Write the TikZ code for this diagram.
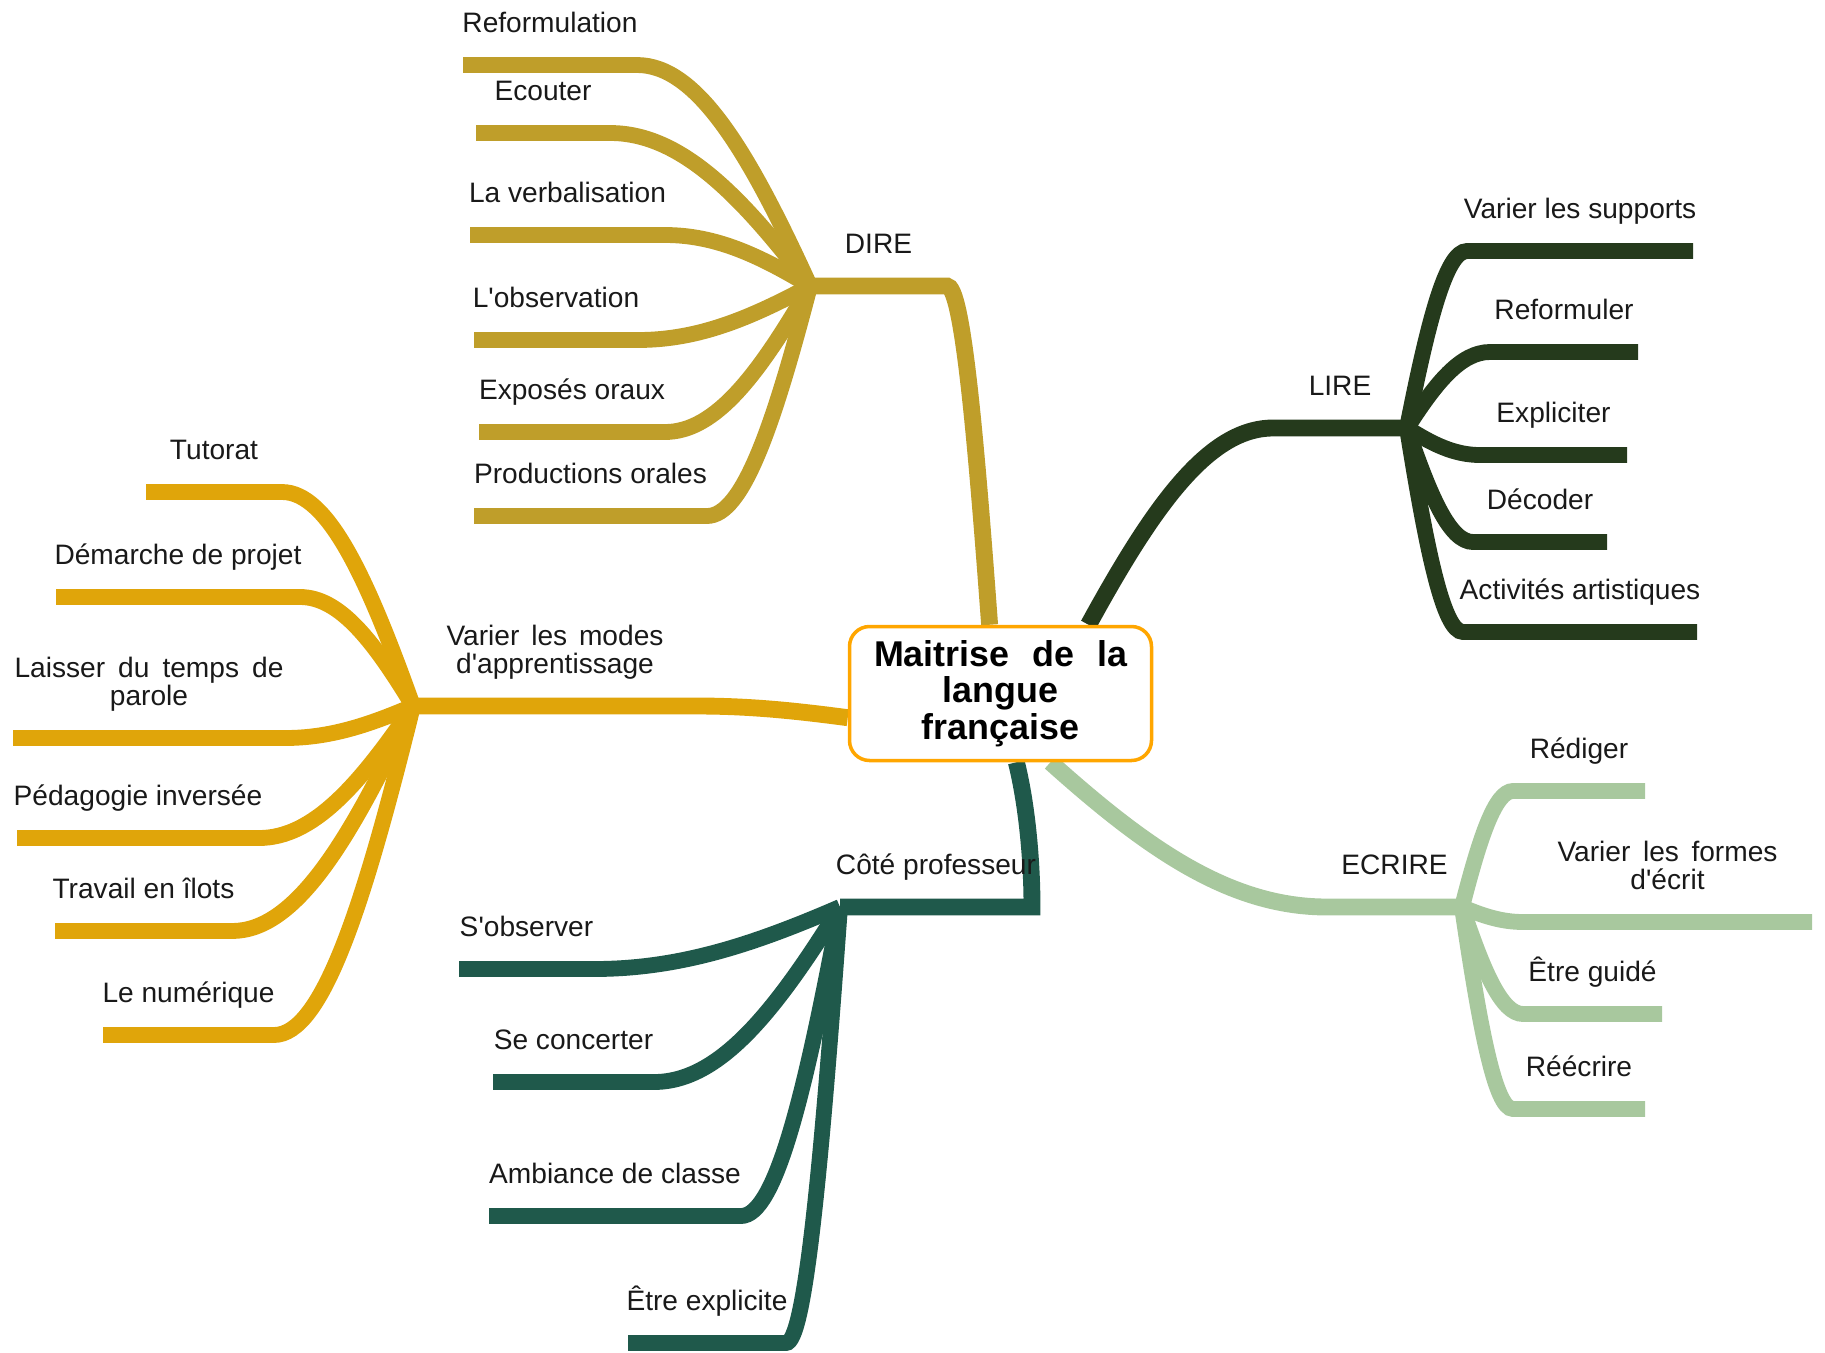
\documentclass[tikz,border=0pt]{standalone}
\usepackage{fontspec}
\setmainfont{Liberation Sans}
\usetikzlibrary{calc,backgrounds}
\definecolor{diregold}{RGB}{191,158,42}
\definecolor{modesgold}{RGB}{224,165,10}
\definecolor{liregreen}{RGB}{37,58,28}
\definecolor{ecrirgreen}{RGB}{168,200,158}
\definecolor{profteal}{RGB}{31,89,75}
\definecolor{boxorange}{RGB}{255,166,0}
\newcommand{\twolines}[3]{\parbox[b]{#1}{\centering\makebox[#1][s]{#2}\\#3}}
\newcommand{\ap}{\textquotesingle}

\begin{document}
\begin{tikzpicture}[x=0.1mm, y=-0.1mm,
  lbl/.style={anchor=base, yshift=3.3mm, inner sep=0pt, text=black!90,
    font=\fontsize{8}{7.8}\selectfont},
  twig/.style={to path={let \p1=(\tikztostart), \p2=(\tikztotarget) in
    .. controls ({\x1+0.35*(\x2-\x1)},{\y1+0.6*(\y2-\y1)})
    and ({\x2-0.35*(\x2-\x1)},\y2) .. (\tikztotarget)}},
  trunk/.style={line width=4.8pt},
  limb/.style={line width=4.5pt}]
  \useasboundingbox (0,0) rectangle (1825,1352);

  \node[draw=boxorange, line width=1pt, fill=white, rounded corners=2mm,
    minimum width=30.2mm, minimum height=13.4mm, inner sep=0pt, align=center,
    font=\fontsize{10.2}{10.4}\selectfont\bfseries] (maitrise) at (1000.5,693.5)
    {\makebox[25.3mm][s]{Maitrise de la}\\langue\\française};

  \begin{scope}[on background layer]
  % DIRE
  \coordinate (hub-dire) at (810,286);
  \coordinate (dire-in) at (947,286);
  \draw[diregold, trunk] (maitrise.99) to[twig] (dire-in)
    -- node[lbl] (dire) {DIRE} (hub-dire);
  \foreach \nm/\txt/\xa/\xb/\yy in {reform/Reformulation/463/637/65,
      ecouter/Ecouter/476/610/133, verbal/La verbalisation/470/665/235,
      observ/L\ap observation/474/638/340, exposes/Exposés oraux/479/665/432,
      product/Productions orales/474/707/516} {
    \coordinate (\nm-o) at (\xa,\yy);
    \coordinate (\nm-i) at (\xb,\yy);
    \draw[diregold, limb] (hub-dire) to[twig] (\nm-i) -- node[lbl] (\nm) {\txt} (\nm-o);
  }

  % Varier les modes d'apprentissage
  \coordinate (hub-modes) at (413,706);
  \coordinate (modes-in) at (697,706);
  \draw[modesgold, trunk] (maitrise.189) to[twig] (modes-in)
    -- node[lbl] (modes) {\twolines{21.7mm}{Varier les modes}{d\ap apprentissage}} (hub-modes);
  \foreach \nm/\txt/\xa/\xb/\yy in {tutorat/Tutorat/146/282/492,
      demarche/Démarche de projet/56/300/597,
      parole/{\twolines{26.9mm}{Laisser du temps de}{parole}}/13/285/738,
      inverse/Pédagogie inversée/17/259/838, ilots/Travail en îlots/55/232/931,
      numerique/Le numérique/103/274/1035} {
    \coordinate (\nm-o) at (\xa,\yy);
    \coordinate (\nm-i) at (\xb,\yy);
    \draw[modesgold, limb] (hub-modes) to[twig] (\nm-i) -- node[lbl] (\nm) {\txt} (\nm-o);
  }

  % LIRE
  \coordinate (hub-lire) at (1407,428);
  \coordinate (lire-in) at (1273,428);
  \draw[liregreen, trunk] (maitrise.38) to[twig] (lire-in)
    -- node[lbl] (lire) {LIRE} (hub-lire);
  \foreach \nm/\txt/\xa/\xb/\yy in {supports/Varier les supports/1693/1467/251,
      reformuler/Reformuler/1638/1490/352, expliciter/Expliciter/1627/1480/455,
      decoder/Décoder/1607/1473/542, artist/Activités artistiques/1697/1463/632} {
    \coordinate (\nm-o) at (\xa,\yy);
    \coordinate (\nm-i) at (\xb,\yy);
    \draw[liregreen, limb] (hub-lire) to[twig] (\nm-i) -- node[lbl] (\nm) {\txt} (\nm-o);
  }

  % ECRIRE
  \coordinate (hub-ecrire) at (1462,907);
  \coordinate (ecrire-in) at (1327,907);
  \draw[ecrirgreen, trunk] (maitrise.-54) to[twig] (ecrire-in)
    -- node[lbl] (ecrire) {ECRIRE} (hub-ecrire);
  \foreach \nm/\txt/\xa/\xb/\yy in {rediger/Rédiger/1645/1513/791,
      formes/{\twolines{22mm}{Varier les formes}{d\ap écrit}}/1812/1523/922,
      guide/Être guidé/1662/1523/1014, reecrire/Réécrire/1645/1513/1109} {
    \coordinate (\nm-o) at (\xa,\yy);
    \coordinate (\nm-i) at (\xb,\yy);
    \draw[ecrirgreen, limb] (hub-ecrire) to[twig] (\nm-i) -- node[lbl] (\nm) {\txt} (\nm-o);
  }

  % Cote professeur
  \coordinate (hub-prof) at (840,907);
  \coordinate (prof-in) at (1032,907);
  \draw[profteal, trunk] (maitrise.-77) .. controls +(10,40) and +(0,-50) .. (prof-in)
    -- node[lbl] (prof) {Côté professeur} (hub-prof);
  \foreach \nm/\txt/\xa/\xb/\yy in {sobserver/S\ap observer/459/594/969,
      concerter/Se concerter/493/654/1082, ambiance/Ambiance de classe/489/741/1216,
      explicite/Être explicite/628/786/1343} {
    \coordinate (\nm-o) at (\xa,\yy);
    \coordinate (\nm-i) at (\xb,\yy);
    \draw[profteal, limb] (hub-prof) to[twig] (\nm-i) -- node[lbl] (\nm) {\txt} (\nm-o);
  }
  \end{scope}
\end{tikzpicture}
\end{document}
